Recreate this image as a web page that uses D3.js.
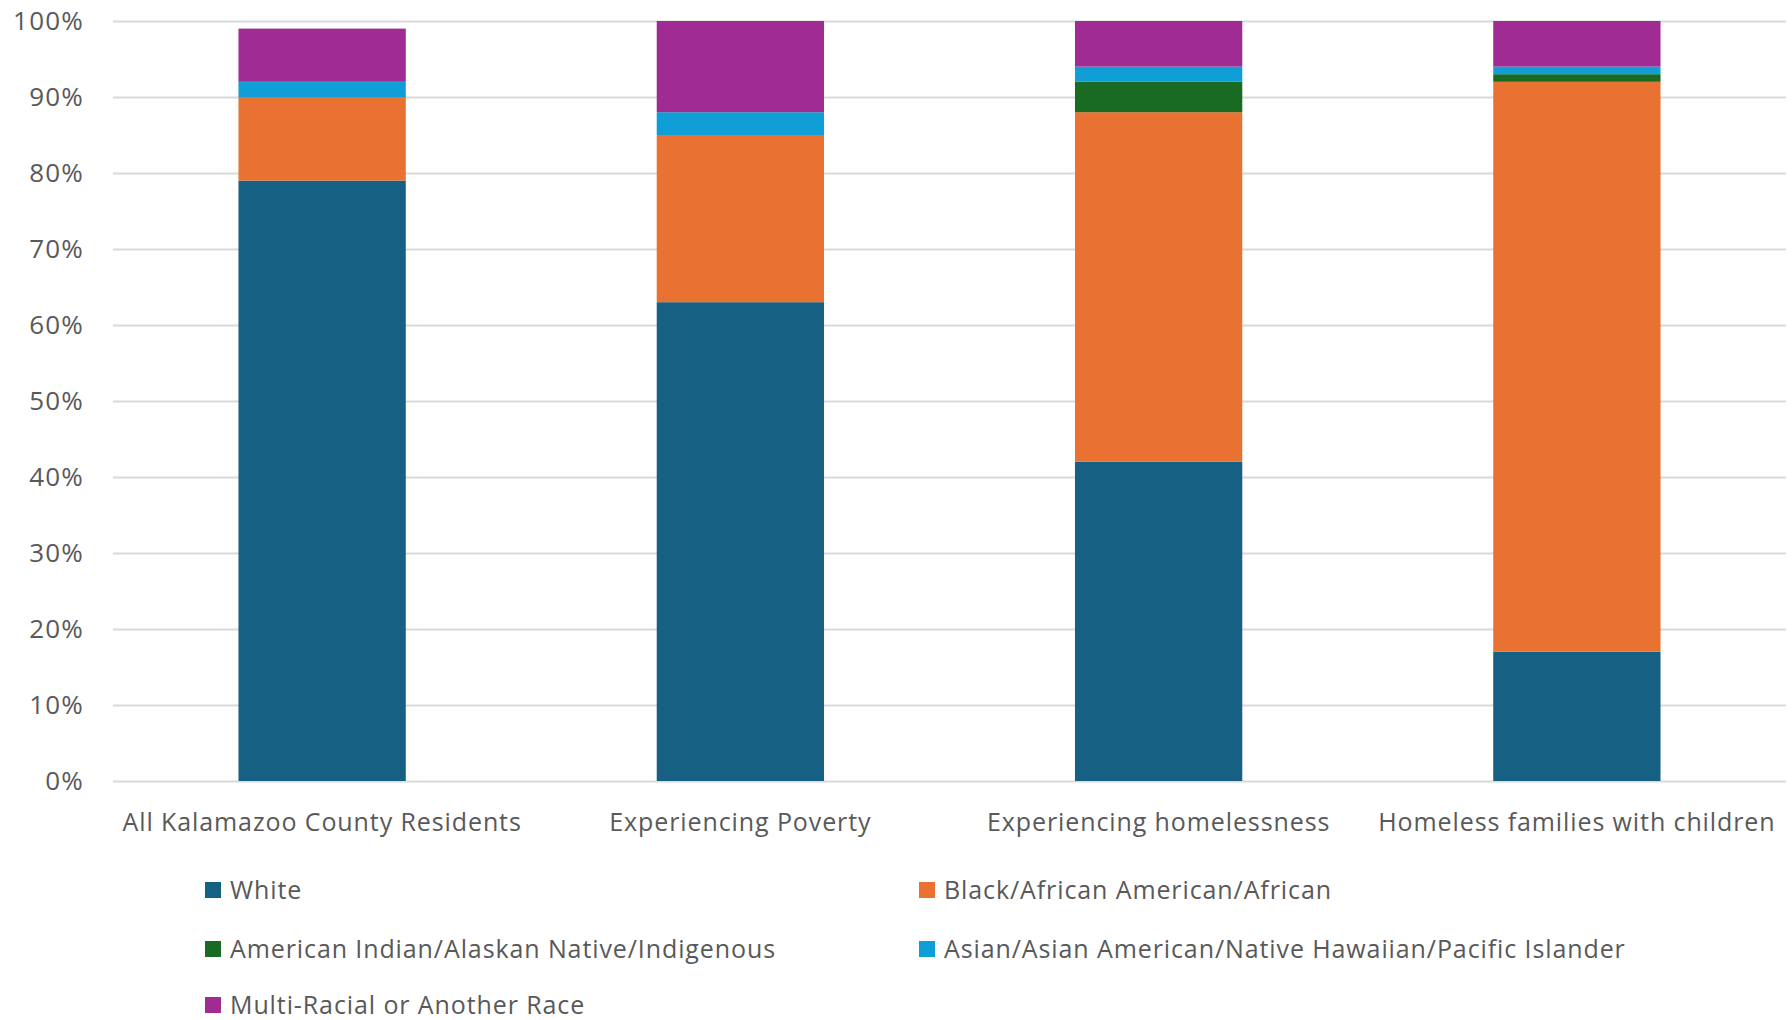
<!DOCTYPE html>
<html>
<head>
<meta charset="utf-8">
<script src="https://cdn.jsdelivr.net/npm/d3@7"></script>
<style>
  html, body { margin: 0; padding: 0; background: #fff; }
  svg { display: block; }
  text { font-family: "Open Sans", "Noto Sans", sans-serif; fill: #595959; }
</style>
</head>
<body>
<svg id="chart" width="1792" height="1020"></svg>
<script>
const categories = ["All Kalamazoo County Residents", "Experiencing Poverty", "Experiencing homelessness", "Homeless families with children"];
const seriesNames = ["White", "Black/African American/African", "American Indian/Alaskan Native/Indigenous", "Asian/Asian American/Native Hawaiian/Pacific Islander", "Multi-Racial or Another Race"];
const seriesColors = ["#166083", "#E97132", "#196B24", "#0F9ED5", "#A02B93"];
const white = [79, 63, 42, 17];
const black = [11, 22, 46, 75];
const aian = [0, 0, 4, 1];
const asian = [2, 3, 2, 1];
const multi = [7, 12, 6, 6];
const yTicks = [0, 10, 20, 30, 40, 50, 60, 70, 80, 90, 100];

const seriesValues = [white, black, aian, asian, multi];
const rows = categories.map((c, i) => {
  const r = { category: c };
  seriesNames.forEach((s, k) => { r[s] = seriesValues[k][i]; });
  return r;
});

const svg = d3.select("#chart");
const margin = { left: 113, right: 6, top: 21, bottom: 239 };
const W = 1792, H = 1020;

const x = d3.scaleBand().domain(categories)
  .range([margin.left, W - margin.right])
  .paddingInner(0.6).paddingOuter(0.3);
const y = d3.scaleLinear().domain([0, 100]).range([H - margin.bottom, margin.top]);

// gridlines
const grid = d3.axisLeft(y).tickValues(yTicks).tickSize(-(W - margin.right - margin.left)).tickFormat("");
const gg = svg.append("g").attr("transform", `translate(${margin.left},0)`).call(grid);
gg.select(".domain").remove();
gg.selectAll("line").attr("stroke", "#D9D9D9").attr("stroke-width", 2);

// y tick labels
const yAxis = d3.axisLeft(y).tickValues(yTicks).tickSize(0).tickPadding(29).tickFormat(d => d + "%");
const ya = svg.append("g").attr("transform", `translate(${margin.left},0)`).call(yAxis);
ya.select(".domain").remove();
ya.selectAll("text").attr("font-size", 26).attr("fill", "#595959")
  .attr("letter-spacing", 1.2)
  .style("font-family", '"Open Sans", sans-serif');

// stacked bars
const stack = d3.stack().keys(seriesNames);
const stacked = stack(rows);
const color = d3.scaleOrdinal().domain(seriesNames).range(seriesColors);

svg.append("g").selectAll("g").data(stacked).join("g")
  .attr("fill", d => color(d.key))
  .selectAll("rect").data(d => d).join("rect")
  .attr("x", d => x(d.data.category))
  .attr("width", x.bandwidth())
  .attr("y", d => y(d[1]))
  .attr("height", d => y(d[0]) - y(d[1]));

// x axis labels
const xAxis = d3.axisBottom(x).tickSize(0).tickPadding(32);
const xa = svg.append("g").attr("transform", `translate(0,${y(0)})`).call(xAxis);
xa.select(".domain").remove();
xa.selectAll("text").attr("font-size", 25).attr("fill", "#595959")
  .attr("letter-spacing", 0.9)
  .style("font-family", '"Open Sans", sans-serif');

// legend
const legendCols = [205, 919];
const legendRows = [890, 949, 1005];
const lg = svg.append("g");
seriesNames.forEach((s, i) => {
  const cx = legendCols[i % 2], cy = legendRows[Math.floor(i / 2)];
  const g = lg.append("g").attr("transform", `translate(${cx},${cy})`);
  g.append("rect").attr("x", 0).attr("y", -8).attr("width", 16).attr("height", 16).attr("fill", color(s));
  g.append("text").attr("x", 25).attr("y", 0).attr("dy", "0.35em")
    .attr("font-size", 25).attr("letter-spacing", 0.9).text(s);
});
</script>
</body>
</html>
